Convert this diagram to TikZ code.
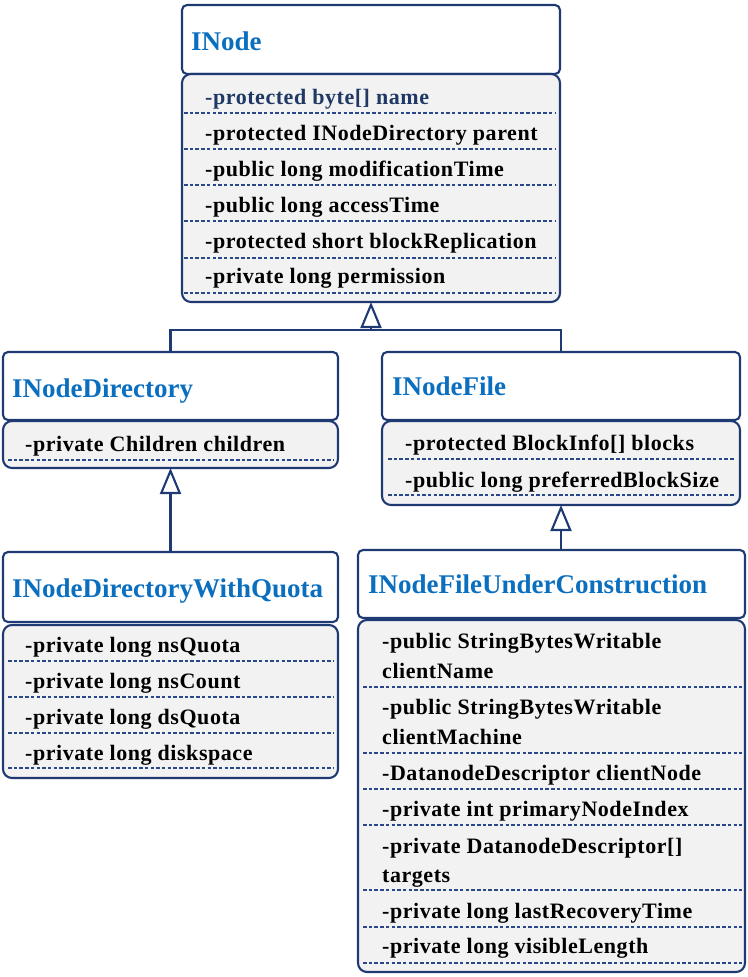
\documentclass[tikz,border=0pt]{standalone}
\usepackage{fontspec}
\setmainfont{Liberation Serif}
\newfontfamily\attff[LetterSpace=2.5]{Liberation Serif}
\usetikzlibrary{arrows.meta,calc}
\definecolor{lineblue}{HTML}{1F3A73}
\definecolor{dashblue}{HTML}{28488A}
\definecolor{titleblue}{HTML}{0B6FBF}
\definecolor{boxgray}{HTML}{F2F2F2}
\definecolor{firstblue}{HTML}{1F3864}
\tikzset{
  hdr/.style={draw=lineblue, line width=2.1pt, rounded corners=5pt, fill=white, anchor=north west, inner sep=0pt, outer sep=0pt},
  attrbox/.style={draw=lineblue, line width=2.1pt, rounded corners=9pt, fill=boxgray, anchor=north west, inner sep=0pt, outer sep=0pt},
  ttl/.style={anchor=base west, inner sep=0pt, text=titleblue, font=\fontsize{27}{32}\selectfont\bfseries},
  att/.style={anchor=base west, inner sep=0pt, font=\attff\fontsize{22}{26}\selectfont\bfseries},
  sepline/.style={draw=dashblue, line width=1.7pt, dash pattern=on 3.5pt off 2.2pt},
  conn/.style={draw=lineblue, line width=2.1pt},
  inh/.style={conn, -{Triangle[open, length=26pt, width=21pt, line width=2.1pt]}},
}
\newcommand\dsep[3]{\draw[sepline] (#1,#3) -- (#2,#3);}
\begin{document}
\begin{tikzpicture}[x=1pt,y=-1pt]
\useasboundingbox (0,0) rectangle (747,977);

% ---------- INode ----------
\node[hdr, minimum width=378pt, minimum height=69pt] (inodeH) at (182,5) {};
\node[attrbox, minimum width=378pt, minimum height=228pt] (inodeA) at (182,74) {};
\node[ttl] (tInode) at (191,50) {INode};
\node[att, text=firstblue] (i1) at (205,104) {-protected byte[] name};
\node[att] (i2) at (205,140) {-protected INodeDirectory parent};
\node[att] (i3) at (205,176) {-public long modificationTime};
\node[att] (i4) at (205,212) {-public long accessTime};
\node[att] (i5) at (205,248) {-protected short blockReplication};
\node[att] (i6) at (205,283) {-private long permission};
\dsep{184}{555}{113}
\dsep{184}{555}{149}
\dsep{184}{555}{185}
\dsep{184}{555}{221}
\dsep{184}{555}{258}
\dsep{184}{555}{293}

% ---------- INodeDirectory ----------
\node[hdr, minimum width=335pt, minimum height=68pt] (dirH) at (3,352) {};
\node[attrbox, minimum width=335pt, minimum height=47pt] (dirA) at (3,421) {};
\node[ttl] (tDir) at (12,397) {INodeDirectory};
\node[att] (d1) at (25,451) {-private Children children};
\dsep{8}{333}{460}

% ---------- INodeFile ----------
\node[hdr, minimum width=358pt, minimum height=68pt] (fileH) at (382,352) {};
\node[attrbox, minimum width=358pt, minimum height=84pt] (fileA) at (382,421) {};
\node[ttl] (tFile) at (392,395) {INodeFile};
\node[att] (f1) at (405,450) {-protected BlockInfo[] blocks};
\node[att] (f2) at (405,487) {-public long preferredBlockSize};
\dsep{388}{735}{459}
\dsep{388}{735}{495}

% ---------- INodeDirectoryWithQuota ----------
\node[hdr, minimum width=335pt, minimum height=70pt] (quotaH) at (3,552) {};
\node[attrbox, minimum width=335pt, minimum height=153pt] (quotaA) at (3,625) {};
\node[ttl] (tQuota) at (12,597) {INodeDirectoryWithQuota};
\node[att] (q1) at (25,652) {-private long nsQuota};
\node[att] (q2) at (25,688) {-private long nsCount};
\node[att] (q3) at (25,724) {-private long dsQuota};
\node[att] (q4) at (25,760) {-private long diskspace};
\dsep{8}{333}{661}
\dsep{8}{333}{697}
\dsep{8}{333}{733}
\dsep{8}{333}{768}

% ---------- INodeFileUnderConstruction ----------
\node[hdr, minimum width=387pt, minimum height=68pt] (ucH) at (358,550) {};
\node[attrbox, minimum width=387pt, minimum height=352pt] (ucA) at (358,620) {};
\node[ttl] (tUC) at (368,593) {INodeFileUnderConstruction};
\node[att] (u1) at (382,648) {-public StringBytesWritable};
\node[att] (u1b) at (382,678) {clientName};
\node[att] (u2) at (382,714) {-public StringBytesWritable};
\node[att] (u2b) at (382,744) {clientMachine};
\node[att] (u3) at (382,780) {-DatanodeDescriptor clientNode};
\node[att] (u4) at (382,816) {-private int primaryNodeIndex};
\node[att] (u5) at (382,853) {-private DatanodeDescriptor[]};
\node[att] (u5b) at (382,882) {targets};
\node[att] (u6) at (382,918) {-private long lastRecoveryTime};
\node[att] (u7) at (382,953) {-private long visibleLength};
\dsep{363}{742}{687}
\dsep{363}{742}{753}
\dsep{363}{742}{789}
\dsep{363}{742}{825}
\dsep{363}{742}{890}
\dsep{363}{742}{927}
\dsep{363}{742}{963}

% ---------- Inheritance connectors ----------
\coordinate (jn) at ($(inodeA.south)+(0,28)$);
\draw[conn] (dirH.north) |- (jn) -| (fileH.north);
\draw[inh] (jn) -- (inodeA.south);
\draw[inh] (quotaH.north) -- (dirA.south);
\draw[inh] (ucH.north -| fileA.south) -- (fileA.south);
\end{tikzpicture}
\end{document}
